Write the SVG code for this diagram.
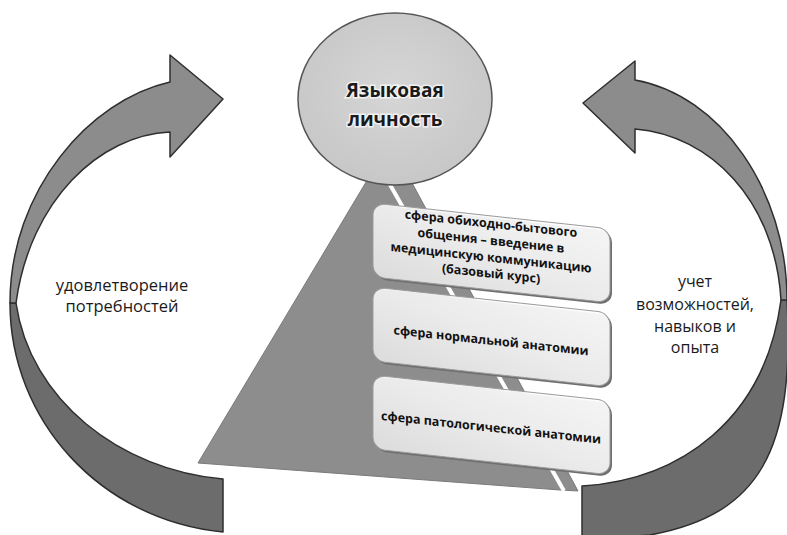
<svg xmlns="http://www.w3.org/2000/svg" width="787" height="535" viewBox="0 0 787 535">
  <defs>
    <linearGradient id="boxGrad" x1="0" y1="1" x2="1" y2="0">
      <stop offset="0" stop-color="#e4e4e4"/>
      <stop offset="0.5" stop-color="#f4f4f4"/>
      <stop offset="1" stop-color="#ffffff"/>
    </linearGradient>
    <radialGradient id="circGrad" cx="0.5" cy="0.45" r="0.6">
      <stop offset="0" stop-color="#d6d6d6"/>
      <stop offset="1" stop-color="#c6c6c6"/>
    </radialGradient>
  </defs>
  <style>
    .arrowLight { fill: #8c8c8c; stroke: #2e2e2e; stroke-width: 1.5; stroke-linejoin: round; }
    .arrowDark { fill: #6c6c6c; stroke: #2e2e2e; stroke-width: 1.5; stroke-linejoin: round; }
    .label { font-family: "Open Sans", "Liberation Sans", sans-serif; font-size: 16px; fill: #1a1a1a; text-anchor: middle; }
    .boxText { font-family: "Open Sans", "Liberation Sans", sans-serif; font-size: 12.5px; font-weight: bold; fill: #111; text-anchor: middle; }
    .title { font-family: "Open Sans", "Liberation Sans", sans-serif; font-size: 19px; font-weight: bold; fill: #1a1a1a; text-anchor: middle; stroke: #ffffff; stroke-width: 3; stroke-opacity: 0.7; paint-order: stroke; }
    .boxShadow { fill: #6f6f6f; }
    .box { fill: url(#boxGrad); stroke: #9a9a9a; stroke-width: 1; fill-opacity: 0.93; }
  </style>

  <rect x="0" y="0" width="787" height="535" fill="#ffffff"/>

  <g id="connectors">
    <!-- left circular arrow -->
    <g id="arrow-left">
      <path class="arrowDark" d="M10,303 C10,420 100,520 223,532 L223,479 C120,470 30,400 16,303 Z"/>
      <path class="arrowLight" d="M170,82 C90,100 10,190 10,303 L16,303 C30,200 100,135 170,132 L170,157 L223,99 L170,55 Z"/>
    </g>
    <!-- right circular arrow -->
    <g id="arrow-right">
      <path class="arrowDark" d="M787,300 C795,450 760,515 650,535 L582,540 L582,486 C680,480 765,420 781,300 Z"/>
      <path class="arrowLight" d="M635,80 C720,95 787,190 787,300 L781,300 C775,200 710,135 635,129 L635,153 L583,103 L635,61 Z"/>
    </g>
  </g>

  <g id="pyramid">
    <polygon points="390,142 198,463 560,490 578,491" fill="#8d8d8d" stroke="#7a7a7a" stroke-width="1"/>
    <line x1="376" y1="160" x2="564" y2="491" stroke="#ffffff" stroke-width="4"/>
  </g>

  <g id="node-personality">
    <ellipse cx="395" cy="99" rx="97" ry="86" fill="url(#circGrad)" stroke="#555555" stroke-width="1.5"/>
    <text class="title" x="395" y="97">Языковая</text>
    <text class="title" x="395" y="126">личность</text>
  </g>

  <g id="node-sphere1" transform="translate(373,0) skewY(6.2)">
    <rect class="boxShadow" x="2" y="205" width="237" height="74" rx="12"/>
    <rect class="box" x="0" y="203" width="237" height="74" rx="12"/>
    <text class="boxText" x="118" y="215">сфера обиходно-бытового</text>
    <text class="boxText" x="118" y="232">общения – введение в</text>
    <text class="boxText" x="118" y="249">медицинскую коммуникацию</text>
    <text class="boxText" x="118" y="265">(базовый курс)</text>
  </g>

  <g id="node-sphere2" transform="translate(373,0) skewY(6.2)">
    <rect class="boxShadow" x="2" y="289" width="237" height="74" rx="12"/>
    <rect class="box" x="0" y="287" width="237" height="74" rx="12"/>
    <text class="boxText" x="118" y="332">сфера нормальной анатомии</text>
  </g>

  <g id="node-sphere3" transform="translate(373,0) skewY(6.2)">
    <rect class="boxShadow" x="2" y="377" width="237" height="74" rx="12"/>
    <rect class="box" x="0" y="375" width="237" height="74" rx="12"/>
    <text class="boxText" x="118" y="419">сфера патологической анатомии</text>
  </g>

  <g id="label-left">
    <text class="label" x="122" y="291" style="font-size:16.5px">удовлетворение</text>
    <text class="label" x="122" y="312" style="font-size:16.5px">потребностей</text>
  </g>

  <g id="label-right">
    <text class="label" x="695" y="287">учет</text>
    <text class="label" x="695" y="310">возможностей,</text>
    <text class="label" x="695" y="332">навыков и</text>
    <text class="label" x="695" y="353">опыта</text>
  </g>
</svg>
